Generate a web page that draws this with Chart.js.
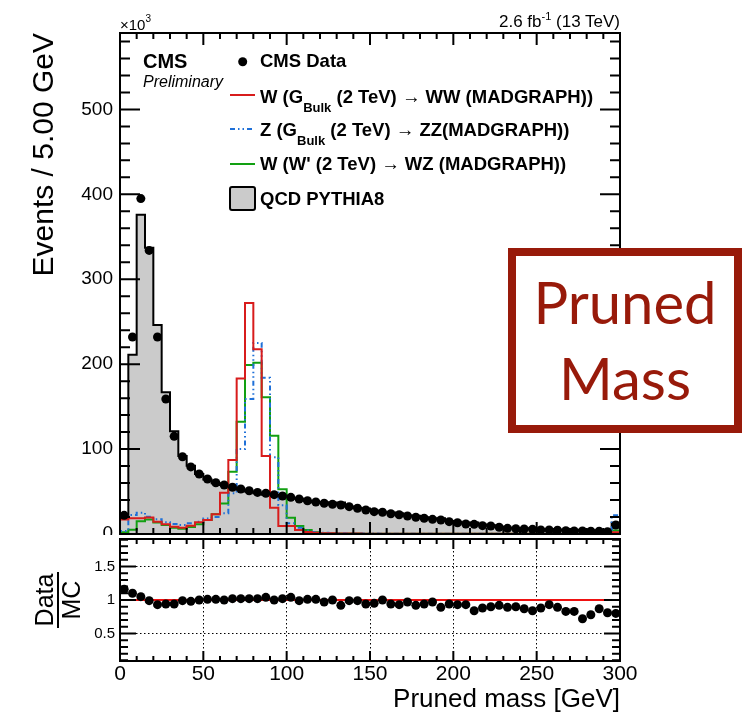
<!DOCTYPE html>
<html>
<head>
<meta charset="utf-8">
<title>Pruned mass</title>
<script src="https://cdn.jsdelivr.net/npm/chart.js@4.4.0/dist/chart.umd.min.js"></script>
<style>
  body { margin: 0; background: #fff; }
  #wrap { position: relative; width: 753px; height: 715px; overflow: hidden;
          font-family: "Liberation Sans", Arial, Helvetica, sans-serif; color: #000; }
  canvas { position: absolute; left: 0; }
  #mainChart { top: 0; }
  #ratioChart { top: 535px; background: #fff; }
  .txt { position: absolute; white-space: nowrap; line-height: 1; }
  .leg { left: 260px; font-size: 18.5px; font-weight: bold; }
  .leg .sub { font-size: 13px; position: relative; top: 9px; }
  .leg .arr { font-weight: normal; }
  #marks { position: absolute; left: 0; top: 0; }
  #tagBox { position: absolute; left: 508px; top: 248px; width: 234px; height: 185px;
            box-sizing: border-box; border: 8px solid #981a0a; background: #fff; }
  .tag { position: absolute; left: 508px; width: 234px; text-align: center; line-height: 1;
         font-family: Lato, "Open Sans", sans-serif; font-size: 58px; color: #981a0a; }
  #ratioTitle { position: absolute; left: 28px; top: 574px; width: 60px; height: 52px;
                transform: rotate(-90deg); font-size: 25px; line-height: 25px; text-align: center; }
  #ratioTitle .bar { width: 56px; height: 2px; background: #000; margin: 0 auto; }
</style>
</head>
<body>
<div id="wrap">
  <canvas id="mainChart" width="753" height="536"></canvas>
  <canvas id="ratioChart" width="753" height="180"></canvas>

  <div class="txt" style="left:120px; top:17px; font-size:15px;">×10<span style="font-size:10px; position:relative; top:-8px;">3</span></div>
  <div class="txt" style="right:133px; top:13px; font-size:17px;">2.6 fb<span style="font-size:11px; position:relative; top:-7px;">-1</span> (13 TeV)</div>

  <div class="txt" style="left:143px; top:51px; font-size:20px; font-weight:bold;">CMS</div>
  <div class="txt" style="left:143px; top:74px; font-size:16px; font-style:italic;">Preliminary</div>

  <svg id="marks" width="300" height="230">
    <circle cx="242.7" cy="61.7" r="4.5" fill="#000"/>
    <line x1="230" y1="95" x2="255" y2="95" stroke="#d81c1c" stroke-width="2"/>
    <line x1="230" y1="129" x2="255" y2="129" stroke="#1f70d8" stroke-width="2" stroke-dasharray="5 3 1.5 3 1.5 3"/>
    <line x1="230" y1="164" x2="255" y2="164" stroke="#12a012" stroke-width="2"/>
    <rect x="230" y="187" width="25" height="23" rx="2" fill="#cbcbcb" stroke="#000" stroke-width="2"/>
  </svg>
  <div class="txt leg" style="top:52px;">CMS Data</div>
  <div class="txt leg" style="top:87.6px;">W (G<span class="sub">Bulk</span> (2 TeV) <span class="arr">→</span> WW (MADGRAPH))</div>
  <div class="txt leg" style="top:121.3px;">Z (G<span class="sub">Bulk</span> (2 TeV) <span class="arr">→</span> ZZ(MADGRAPH))</div>
  <div class="txt leg" style="top:155.3px;">W (W' (2 TeV) <span class="arr">→</span> WZ (MADGRAPH))</div>
  <div class="txt leg" style="top:190.3px;">QCD PYTHIA8</div>

  <div id="tagBox"></div>
  <div class="tag" style="top:272.6px;">Pruned</div>
  <div class="tag" style="top:348.6px;">Mass</div>

  <div id="ratioTitle"><div>Data</div><div class="bar"></div><div>MC</div></div>
</div>

<script>
// 5 GeV bins from 0 to 300 GeV, counts in units of 10^3 events
const binWidth = 5;
const massMin = 0;
const massMax = 300;

const dataCounts = [
  22, 232, 395, 334, 232, 159, 115, 91, 79, 70.7,
  64.8, 60.4, 57.7, 55, 53, 51, 49, 48, 46.3, 44.8,
  43.2, 41.2, 39.2, 37.7, 36.2, 35, 34.2, 32.2, 30.3, 28.3,
  26.3, 25.6, 23.9, 22.7, 21.2, 19.7, 18.5, 17.3, 16.5, 14.5,
  13.3, 11.8, 11.4, 9.8, 9.4, 7.9, 6.7, 6.2, 5.9, 5.5,
  4.7, 4.7, 4.4, 3.9, 3.5, 3.5, 3.2, 3.2, 2.7, 10.6
];

const qcdCounts = [
  19, 211, 376, 337, 246, 167, 121, 92, 80.5, 70.7,
  64.2, 59.8, 57.7, 53.9, 52, 50, 48, 46.2, 46.3, 43.9,
  41.5, 41.6, 38.8, 37.3, 37.3, 35, 37.2, 32.5, 30.6, 30.1,
  27.7, 25.6, 25.4, 24.4, 21.9, 21.4, 19.7, 17.8, 18.5, 15.4,
  14.3, 12.7, 13.6, 11.1, 10.4, 8.6, 7.5, 6.9, 6.8, 6.5,
  5.3, 5.1, 4.9, 4.7, 4.2, 4.9, 4.1, 3.7, 3.3, 13.2
];

// W from G_Bulk -> WW
const wwSignal = [
  17, 18.5, 18.5, 19.5, 14.5, 11.4, 8.6, 7.5, 9.8, 13.8,
  16.5, 23.2, 48.6, 87, 183, 272, 217.5, 92, 31, 9.4,
  9.4, 4.7, 2.5, 1.5, 1, 0.8, 0.6, 0.5, 0.5, 0.4,
  0.4, 0.3, 0.3, 0.3, 0.3, 0.3, 0.2, 0.2, 0.2, 0.2,
  0.2, 0.2, 0.2, 0.2, 0.2, 0.2, 0.2, 0.2, 0.2, 0.2,
  0.1, 0.1, 0.1, 0.1, 0.1, 0.1, 0.1, 0.1, 0.1, 2
];

// Z from G_Bulk -> ZZ
const zzSignal = [
  3.5, 22.4, 25, 20.4, 17.3, 13.7, 11.8, 10.6, 12.6, 14.5,
  18.4, 20, 24.4, 48, 100, 159, 225, 184, 90.3, 34,
  12.6, 7.4, 4, 2.5, 1.5, 1, 0.8, 0.7, 0.6, 0.5,
  0.5, 0.4, 0.4, 0.4, 0.3, 0.3, 0.3, 0.3, 0.3, 0.3,
  0.2, 0.2, 0.2, 0.2, 0.2, 0.2, 0.2, 0.2, 0.2, 0.2,
  0.2, 0.2, 0.2, 0.2, 0.2, 0.2, 0.2, 0.2, 0.2, 22
];

// W from W' -> WZ
const wzSignal = [
  2, 5, 15, 17, 13.4, 10.6, 7.5, 6.3, 8.2, 11.4,
  16.5, 23.2, 36, 73.4, 132.3, 199, 201.8, 161, 115.8, 52.6,
  19.2, 9.4, 4.7, 2, 1, 0.8, 0.6, 0.5, 0.5, 0.4,
  0.4, 0.3, 0.3, 0.3, 0.3, 0.3, 0.2, 0.2, 0.2, 0.2,
  0.2, 0.2, 0.2, 0.2, 0.2, 0.2, 0.2, 0.2, 0.2, 0.2,
  0.1, 0.1, 0.1, 0.1, 0.1, 0.1, 0.1, 0.1, 0.1, 4
];

// Data / MC
const ratioValues = [
  1.16, 1.10, 1.05, 0.99, 0.93, 0.94, 0.94, 0.99, 0.98, 1.00,
  1.01, 1.01, 1.00, 1.02, 1.02, 1.02, 1.02, 1.04, 1.00, 1.02,
  1.04, 0.99, 1.01, 1.01, 0.97, 1.00, 0.92, 0.99, 0.99, 0.94,
  0.95, 1.00, 0.94, 0.93, 0.97, 0.92, 0.94, 0.97, 0.89, 0.94,
  0.93, 0.93, 0.84, 0.88, 0.90, 0.92, 0.89, 0.90, 0.87, 0.84,
  0.88, 0.93, 0.89, 0.83, 0.83, 0.72, 0.78, 0.87, 0.81, 0.80
];
const ratioReference = 1;

const massTicks = [0, 50, 100, 150, 200, 250, 300];
const eventTicks = [0, 100, 200, 300, 400, 500];
const ratioTicks = [0.5, 1, 1.5];

Chart.defaults.font.family = '"Liberation Sans", Arial, Helvetica, sans-serif';
Chart.defaults.color = '#000';

// histogram outline: one point at every lower bin edge, stepped horizontally
function histPoints(values) {
  const pts = [{ x: massMin, y: 0 }];
  values.forEach((v, i) => pts.push({ x: massMin + i * binWidth, y: v }));
  const end = massMin + values.length * binWidth;
  pts.push({ x: end, y: values[values.length - 1] });
  pts.push({ x: end, y: 0 });
  return pts;
}

function centerPoints(values) {
  return values.map((v, i) => ({ x: massMin + (i + 0.5) * binWidth, y: v }));
}

function fixedTicks(list) {
  return function (scale) {
    scale.ticks = list.map(v => ({ value: v }));
  };
}

// keep the plot area where the layout padding puts it: no extra room for edge labels
function fixedSize(prop, size) {
  return function (scale) {
    scale[prop] = size;
    scale.paddingTop = scale.paddingBottom = scale.paddingLeft = scale.paddingRight = 0;
  };
}

// frame around the plot area with inward ticks on all four sides
const frameTicks = {
  id: 'frameTicks',
  afterDatasetsDraw(chart, args, o) {
    const { ctx, chartArea: a, scales: { x, y } } = chart;
    const isMajor = (v, step) => Math.abs(v / step - Math.round(v / step)) < 1e-6;
    ctx.save();
    ctx.strokeStyle = '#000';
    ctx.lineWidth = 2;
    ctx.beginPath();
    for (let k = Math.ceil(x.min / o.xMinor - 1e-6); k * o.xMinor <= x.max + 1e-6; k++) {
      const v = k * o.xMinor;
      const px = x.getPixelForValue(v);
      const len = isMajor(v, o.xMajor) ? o.xMajorLen : o.xMinorLen;
      ctx.moveTo(px, a.bottom); ctx.lineTo(px, a.bottom - len);
      ctx.moveTo(px, a.top); ctx.lineTo(px, a.top + len);
    }
    for (let k = Math.ceil(y.min / o.yMinor - 1e-6); k * o.yMinor <= y.max + 1e-6; k++) {
      const v = k * o.yMinor;
      const py = y.getPixelForValue(v);
      const len = isMajor(v, o.yMajor) ? o.yMajorLen : o.yMinorLen;
      ctx.moveTo(a.left, py); ctx.lineTo(a.left + len, py);
      ctx.moveTo(a.right, py); ctx.lineTo(a.right - len, py);
    }
    ctx.stroke();
    ctx.strokeRect(a.left, a.top, a.right - a.left, a.bottom - a.top);
    ctx.restore();
  }
};

const lineStyle = { showLine: true, stepped: 'before', pointRadius: 0, borderWidth: 2, tension: 0 };

new Chart(document.getElementById('mainChart'), {
  type: 'line',
  data: {
    datasets: [
      { label: 'CMS Data', data: centerPoints(dataCounts), showLine: false,
        pointRadius: 4.5, pointBackgroundColor: '#000', pointBorderWidth: 0, order: 0 },
      { ...lineStyle, label: 'W (G_Bulk (2 TeV) -> WW (MADGRAPH))', data: histPoints(wwSignal),
        borderColor: '#d81c1c', fill: false, order: 1 },
      { ...lineStyle, label: 'Z (G_Bulk (2 TeV) -> ZZ(MADGRAPH))', data: histPoints(zzSignal),
        borderColor: '#1f70d8', borderDash: [5, 3, 1.5, 3, 1.5, 3], fill: false, order: 2 },
      { ...lineStyle, label: "W (W' (2 TeV) -> WZ (MADGRAPH))", data: histPoints(wzSignal),
        borderColor: '#12a012', fill: false, order: 3 },
      { ...lineStyle, label: 'QCD PYTHIA8', data: histPoints(qcdCounts),
        borderColor: '#000', backgroundColor: '#cbcbcb', fill: 'origin', order: 4 }
    ]
  },
  options: {
    responsive: false,
    animation: false,
    layout: { autoPadding: false, padding: { top: 33, right: 133, bottom: 2, left: 0 } },
    plugins: {
      legend: { display: false },
      tooltip: { enabled: false },
      frameTicks: { xMajor: 50, xMinor: 10, xMajorLen: 12, xMinorLen: 6,
                    yMajor: 100, yMinor: 20, yMajorLen: 20, yMinorLen: 10 }
    },
    scales: {
      x: { type: 'linear', min: massMin, max: massMax, display: false },
      y: {
        type: 'linear', min: 0, max: 590,
        afterBuildTicks: fixedTicks(eventTicks),
        afterFit: fixedSize('width', 120),
        grid: { display: false, drawTicks: false },
        border: { display: false },
        ticks: { font: { size: 19 }, padding: 7, callback: v => String(v) },
        title: { display: true, text: 'Events / 5.00 GeV', align: 'end',
                 font: { size: 30 }, padding: { top: 27, bottom: 0 } }
      }
    }
  },
  plugins: [frameTicks]
});

new Chart(document.getElementById('ratioChart'), {
  type: 'line',
  data: {
    datasets: [
      { label: 'Data/MC', data: centerPoints(ratioValues), showLine: false,
        pointRadius: 4.5, pointBackgroundColor: '#000', pointBorderWidth: 0, order: 0 },
      { label: 'unity', data: [{ x: massMin, y: ratioReference }, { x: massMax, y: ratioReference }],
        borderColor: '#ee1111', borderWidth: 2, pointRadius: 0, fill: false, order: 1 }
    ]
  },
  options: {
    responsive: false,
    animation: false,
    layout: { autoPadding: false, padding: { top: 4, right: 133, bottom: 0, left: 0 } },
    plugins: {
      legend: { display: false },
      tooltip: { enabled: false },
      frameTicks: { xMajor: 50, xMinor: 10, xMajorLen: 10, xMinorLen: 5,
                    yMajor: 0.5, yMinor: 0.1, yMajorLen: 16, yMinorLen: 8 }
    },
    scales: {
      x: {
        type: 'linear', min: massMin, max: massMax,
        afterBuildTicks: fixedTicks(massTicks),
        afterFit: fixedSize('height', 54),
        grid: { color: '#000', lineWidth: 1, drawTicks: false },
        border: { display: false, dash: [1.5, 2.5] },
        ticks: { font: { size: 21 }, padding: 1, maxRotation: 0, autoSkip: false },
        title: { display: true, text: 'Pruned mass [GeV]', align: 'end',
                 font: { size: 26 }, padding: { top: 0, bottom: 0 } }
      },
      y: {
        type: 'linear', min: 0.09, max: 1.91,
        afterBuildTicks: fixedTicks(ratioTicks),
        afterFit: fixedSize('width', 120),
        grid: { color: '#000', lineWidth: 1, drawTicks: false },
        border: { display: false, dash: [1.5, 2.5] },
        ticks: { font: { size: 15 }, padding: 5, callback: v => String(v) }
      }
    }
  },
  plugins: [frameTicks]
});
</script>
</body>
</html>
